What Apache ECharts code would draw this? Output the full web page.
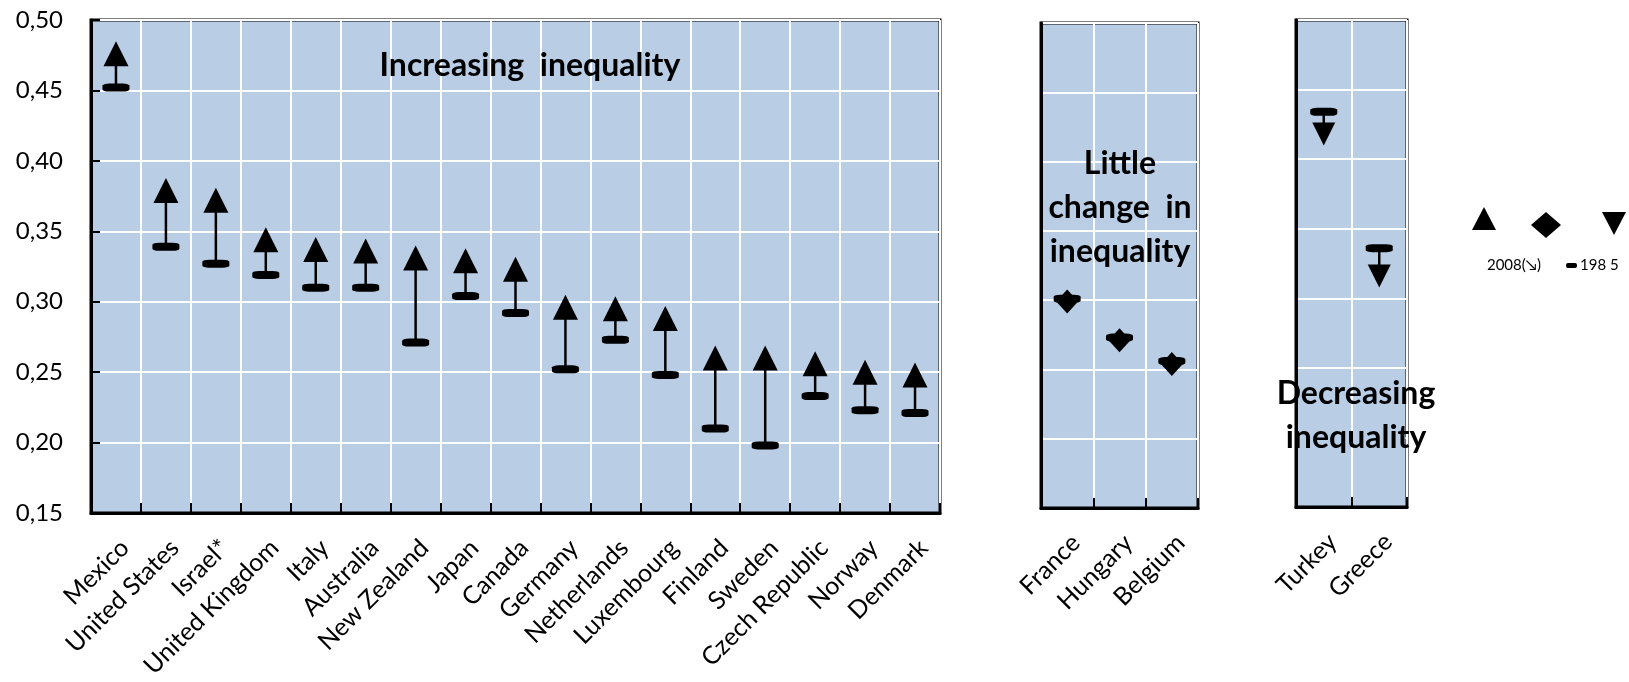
<!DOCTYPE html>
<html>
<head>
<meta charset="utf-8">
<title>Gini</title>
<script src="https://cdn.jsdelivr.net/npm/echarts@6/dist/echarts.min.js"></script>
<style>
  html, body { margin: 0; padding: 0; background: #fff; }
  #chart { width: 1629px; height: 682px; }
</style>
</head>
<body>
<div id="chart"></div>
<script>
// countries and Gini values (1985 = bar, 2008 = marker)
var mainCountries = ['Mexico', 'United States', 'Israel*', 'United Kingdom', 'Italy', 'Australia', 'New Zealand', 'Japan', 'Canada', 'Germany', 'Netherlands', 'Luxembourg', 'Finland', 'Sweden', 'Czech Republic', 'Norway', 'Denmark'];
var main1985 = [0.452, 0.339, 0.327, 0.319, 0.310, 0.310, 0.271, 0.304, 0.292, 0.252, 0.273, 0.248, 0.210, 0.198, 0.233, 0.223, 0.221];
var main2008 = [0.476, 0.379, 0.372, 0.344, 0.337, 0.336, 0.331, 0.329, 0.323, 0.296, 0.295, 0.288, 0.260, 0.260, 0.256, 0.250, 0.248];

var littleCountries = ['France', 'Hungary', 'Belgium'];
var little1985 = [0.301, 0.273, 0.256];
var little2008 = [0.299, 0.271, 0.254];

var decCountries = ['Turkey', 'Greece'];
var dec1985 = [0.434, 0.336];
var dec2008 = [0.418, 0.316];

var yMin = 0.15, yMax = 0.50, yStep = 0.05;

var bg = '#B9CDE5';
var fontFam = 'Lato, "Open Sans", sans-serif';

var chart = echarts.init(document.getElementById('chart'));

function stemData(v1, v2) {
  var out = [];
  for (var i = 0; i < v1.length; i++) out.push([i, v1[i], v2[i]]);
  return out;
}

function renderStem(params, api) {
  var p1 = api.coord([api.value(0), api.value(1)]);
  var p2 = api.coord([api.value(0), api.value(2)]);
  return {
    type: 'line',
    shape: { x1: p1[0], y1: p1[1], x2: p2[0], y2: p2[1] },
    style: { stroke: '#000', lineWidth: 2.5 }
  };
}

function xAxisFor(idx, cats) {
  return {
    type: 'category', gridIndex: idx, data: cats,
    boundaryGap: true,
    axisLine: { lineStyle: { color: '#000', width: 3 } },
    axisTick: { show: true, inside: true, length: 10, alignWithLabel: false, lineStyle: { color: '#000', width: 2 } },
    axisLabel: { interval: 0, rotate: 45, margin: 22, verticalAlign: 'top', color: '#000', fontSize: 25, fontFamily: fontFam },
    splitLine: { show: true, lineStyle: { color: '#fff', width: 2 } }
  };
}

function yAxisFor(idx, showLabels, splitColors) {
  return {
    type: 'value', gridIndex: idx,
    min: yMin, max: yMax, interval: yStep,
    axisLine: { show: true, lineStyle: { color: '#000', width: 3 } },
    axisTick: { show: showLabels, inside: true, length: 9, lineStyle: { color: '#000', width: 2 } },
    axisLabel: {
      show: showLabels, margin: 28, color: '#000', fontSize: 24, fontFamily: fontFam,
      formatter: function (v) { return v.toFixed(2).replace('.', ','); }
    },
    splitLine: { show: true, lineStyle: { color: splitColors || '#fff', width: 2 } }
  };
}

function gridFor(left, top, width, height) {
  return {
    left: left, top: top, width: width, height: height,
    show: true, backgroundColor: bg, borderColor: '#000', borderWidth: 3,
    outerBoundsMode: 'none'
  };
}

var mark = { color: '#000', opacity: 1 };

var option = {
  animation: false,
  grid: [
    gridFor(91, 20, 849, 493),
    gridFor(1041, 23, 157, 485),
    gridFor(1296, 20, 111, 487)
  ],
  xAxis: [
    xAxisFor(0, mainCountries),
    xAxisFor(1, littleCountries),
    xAxisFor(2, decCountries)
  ],
  yAxis: [
    yAxisFor(0, true),
    yAxisFor(1, false),
    yAxisFor(2, false, ['#fff', bg, '#fff', '#fff', '#fff', '#fff', '#fff', '#fff'])
  ],
  series: [
    // increasing inequality
    { type: 'custom', xAxisIndex: 0, yAxisIndex: 0, data: stemData(main1985, main2008), renderItem: renderStem, z: 2 },
    { type: 'scatter', xAxisIndex: 0, yAxisIndex: 0, data: main1985, symbol: 'roundRect', symbolSize: [27, 8], itemStyle: mark, z: 3 },
    { type: 'scatter', xAxisIndex: 0, yAxisIndex: 0, data: main2008, symbol: 'triangle', symbolSize: [25, 25], itemStyle: mark, z: 4 },
    // little change
    { type: 'scatter', xAxisIndex: 1, yAxisIndex: 1, data: little1985, symbol: 'roundRect', symbolSize: [27, 8], itemStyle: mark, z: 3 },
    { type: 'scatter', xAxisIndex: 1, yAxisIndex: 1, data: little2008, symbol: 'diamond', symbolSize: [22, 24], itemStyle: mark, z: 4 },
    // decreasing inequality
    { type: 'custom', xAxisIndex: 2, yAxisIndex: 2, data: stemData(dec1985, dec2008), renderItem: renderStem, z: 2 },
    { type: 'scatter', xAxisIndex: 2, yAxisIndex: 2, data: dec1985, symbol: 'roundRect', symbolSize: [27, 8], itemStyle: mark, z: 3 },
    { type: 'scatter', xAxisIndex: 2, yAxisIndex: 2, data: dec2008, symbol: 'triangle', symbolRotate: 180, symbolSize: [23, 23], itemStyle: mark, z: 4 }
  ],
  graphic: [
    { type: 'text', x: 530, y: 66, z: 10,
      style: { text: 'Increasing  inequality', font: 'bold 32px ' + fontFam, fill: '#000', textAlign: 'center', textVerticalAlign: 'middle' } },
    { type: 'text', x: 1120, y: 208, z: 10,
      style: { text: 'Little\nchange  in\ninequality', font: 'bold 32px ' + fontFam, lineHeight: 44, fill: '#000', textAlign: 'center', textVerticalAlign: 'middle' } },
    { type: 'text', x: 1356, y: 416, z: 10,
      style: { text: 'Decreasing\ninequality', font: 'bold 32px ' + fontFam, lineHeight: 44, fill: '#000', textAlign: 'center', textVerticalAlign: 'middle' } },
    // legend
    { type: 'polygon', z: 10, shape: { points: [[1484, 207], [1496, 230], [1472, 230]] }, style: { fill: '#000' } },
    { type: 'polygon', z: 10, shape: { points: [[1546, 212], [1561, 225], [1546, 238], [1531, 225]] }, style: { fill: '#000' } },
    { type: 'polygon', z: 10, shape: { points: [[1602, 212], [1626, 212], [1614, 235]] }, style: { fill: '#000' } },
    { type: 'text', x: 1514, y: 265, z: 10,
      style: { text: '2008(\u2198)', font: '15px ' + fontFam, fill: '#000', textAlign: 'center', textVerticalAlign: 'middle' } },
    { type: 'rect', z: 10, shape: { x: 1566, y: 263, width: 11, height: 5, r: 2 }, style: { fill: '#000' } },
    { type: 'text', x: 1580, y: 265, z: 10,
      style: { text: '198 5', font: '15px ' + fontFam, fill: '#000', textAlign: 'left', textVerticalAlign: 'middle' } }
  ]
};

chart.setOption(option);
window.addEventListener('resize', function () { chart.resize(); });
</script>
</body>
</html>
